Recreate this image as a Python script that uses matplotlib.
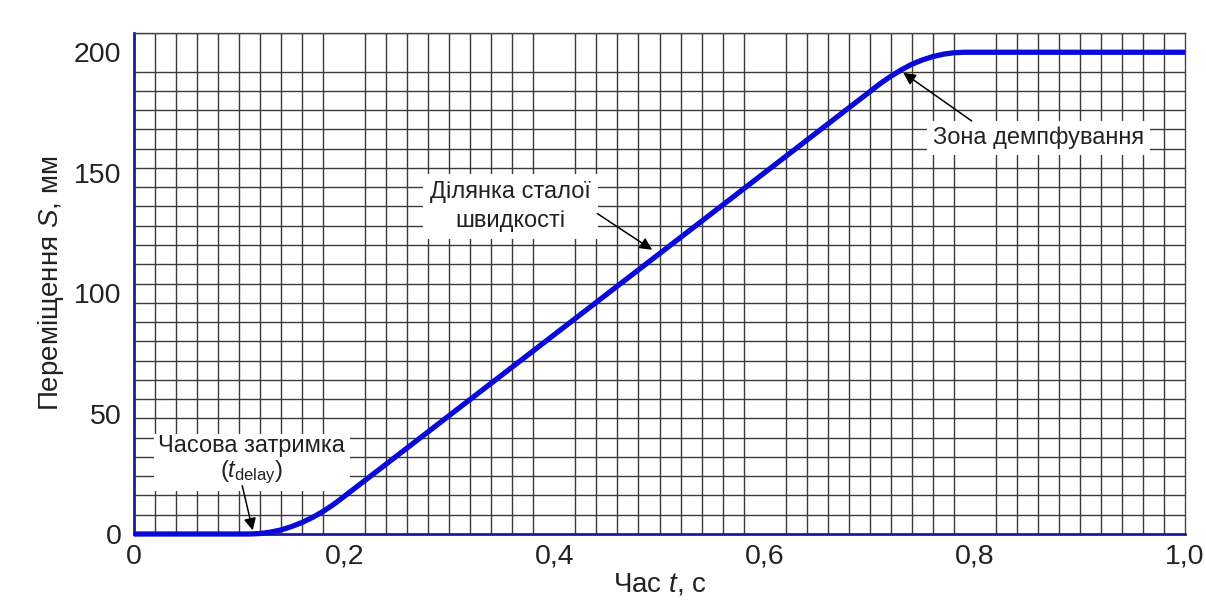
import matplotlib
matplotlib.use("Agg")
import matplotlib.pyplot as plt
import numpy as np

plt.rcParams['font.family'] = ['Liberation Sans', 'DejaVu Sans']
plt.rcParams['mathtext.fontset'] = 'custom'
plt.rcParams['mathtext.rm'] = 'Liberation Sans'
plt.rcParams['mathtext.it'] = 'Liberation Sans:italic'

# Data
time_s = [0.00, 0.05, 0.11, 0.12, 0.13, 0.14, 0.15, 0.16, 0.17, 0.18, 0.19, 0.20,
          0.25, 0.30, 0.35, 0.40, 0.45, 0.50, 0.55, 0.60, 0.65, 0.70,
          0.71, 0.72, 0.73, 0.74, 0.75, 0.76, 0.77, 0.78, 0.79, 0.80, 0.90, 1.00]
displacement_mm = [0.0, 0.0, 0.0, 0.2, 0.8, 1.7, 3.1, 4.8, 6.9, 9.4, 12.3, 15.6,
                   32.4, 49.2, 66.0, 82.8, 99.6, 116.4, 133.2, 150.0, 166.8, 183.6,
                   187.0, 190.0, 192.7, 195.0, 196.8, 198.2, 199.2, 199.8, 200.0, 200.0, 200.0, 200.0]

x_ticks = [0, 0.2, 0.4, 0.6, 0.8, 1.0]
x_tick_labels = ["0", "0,2", "0,4", "0,6", "0,8", "1,0"]
y_ticks = [0, 50, 100, 150, 200]
y_tick_labels = ["0", "50", "100", "150", "200"]

fig = plt.figure(figsize=(12.06, 6.07), dpi=100)
ax = fig.add_axes([134/1206, 1 - 534/607, 1051/1206, 501/607])

ax.set_xlim(0, 1.0)
ax.set_ylim(0, 208)

ax.set_xticks(x_ticks)
ax.set_xticklabels(x_tick_labels)
ax.set_yticks(y_ticks)
ax.set_yticklabels(y_tick_labels)
ax.set_xticks(np.arange(0, 1.0001, 0.02), minor=True)
ax.set_yticks(np.arange(0, 208.001, 8), minor=True)

ax.grid(False, which='major')
ax.grid(True, which='minor', color='#3a3a3a', linewidth=1.0)
ax.tick_params(which='both', length=0)
ax.tick_params(axis='x', labelsize=20.5, pad=7, colors='#222222')
ax.tick_params(axis='y', labelsize=20.5, pad=9, colors='#222222')
ax.set_axisbelow(True)

for side in ['top', 'right']:
    ax.spines[side].set_color('#444444')
    ax.spines[side].set_linewidth(1.0)
for side in ['left', 'bottom']:
    ax.spines[side].set_color('#1a1aa8')
    ax.spines[side].set_linewidth(2.0)

ax.plot(time_s, displacement_mm, color='#0a0ad8', linewidth=3.8,
        solid_capstyle='butt', zorder=8, clip_on=False)

ax.set_xlabel("Час $t$, с", fontsize=20, color='#222222', labelpad=1)
ax.set_ylabel("Переміщення $S$, мм", fontsize=20, color='#222222', labelpad=6)

box = dict(boxstyle='square,pad=0.25', facecolor='white', edgecolor='none')
arrow = dict(arrowstyle='-|>', color='black', lw=1.1, mutation_scale=18,
             shrinkA=0, shrinkB=0)

# annotation: delay
ax.text(0.112, 30.5, "Часова затримка\n$(t_{\\mathrm{delay}})$", fontsize=17,
        ha='center', va='center', color='#222222', linespacing=1.1,
        bbox=dict(boxstyle='square,pad=0.2', facecolor='white', edgecolor='none'),
        zorder=6)
ax.annotate("", xy=(0.113, 1.5), xytext=(0.103, 20.0), arrowprops=arrow, zorder=7)

# annotation: constant speed
ax.text(0.358, 136.0, "Ділянка сталої\nшвидкості", fontsize=17, ha='center', va='center',
        color='#222222', linespacing=1.4, bbox=dict(boxstyle='square,pad=0.3',
        facecolor='white', edgecolor='none'), zorder=6)
ax.annotate("", xy=(0.493, 118.0), xytext=(0.441, 133.0), arrowprops=arrow, zorder=7)

# annotation: damping
ax.text(0.861, 164.5, "Зона демпфування", fontsize=17, ha='center', va='center',
        color='#222222', bbox=box, zorder=6)
ax.annotate("", xy=(0.732, 191.5), xytext=(0.797, 171.5), arrowprops=arrow, zorder=7)

fig.savefig("out.png", dpi=100, facecolor='white')
